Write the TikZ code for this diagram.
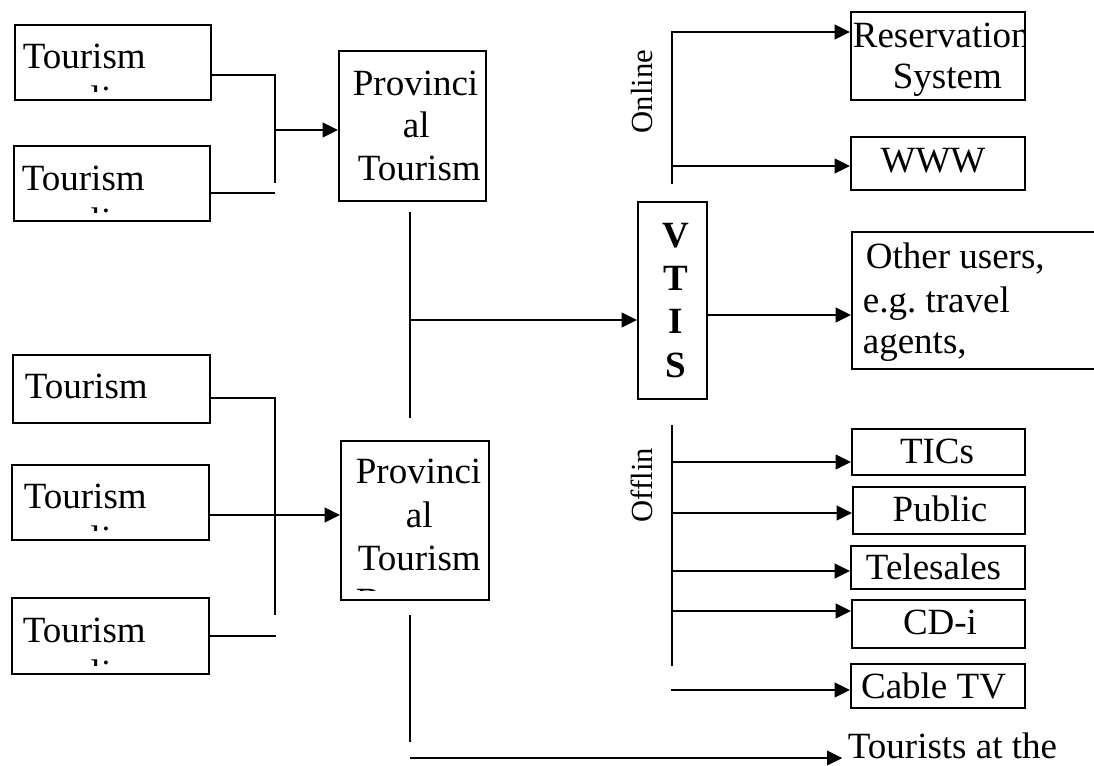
\documentclass[tikz,border=0pt]{standalone}
\usepackage{fontspec}
\setmainfont{Liberation Serif}
\usetikzlibrary{arrows.meta}
\frenchspacing
\newcommand\bigf{\fontsize{27.75pt}{32.25pt}\selectfont}
\newcommand\midf{\fontsize{23pt}{27pt}\selectfont}
\newcommand\boxnode[5]{\node[box, minimum width={(#4-#2)*0.75pt}, minimum height={(#5-#3)*0.75pt}, anchor=north west] (#1) at (#2,#3) {};}
\begin{document}
\begin{tikzpicture}[x=0.75pt,y=-0.75pt, line width=1.3pt,
  box/.style={draw, rectangle, inner sep=0pt, line width=1.3pt},
  txt/.style={inner sep=0pt, anchor=base west, font=\bigf},
  ctxt/.style={inner sep=0pt, anchor=base, font=\bigf},
  vtxt/.style={inner sep=0pt, anchor=base, rotate=90, font=\midf},
  arr/.style={-{Triangle[length=11.5pt,width=11pt]}}]
\clip (0,0) rectangle (1094,765);
\useasboundingbox (0,0) rectangle (1094,765);

% ---------- upper left group
\boxnode{t1}{14}{24}{210}{99}
\boxnode{t2}{13}{145}{209}{220}
\boxnode{p1}{338}{50}{485}{200}
\node[txt] (t1x) at (22,68) {Tourism};
\node[txt] (t2x) at (21,190) {Tourism};
\begin{scope}
  \clip (14,24) rectangle (210,91);
  \node[ctxt] (t1y) at (101,111) {li};
\end{scope}
\begin{scope}
  \clip (13,145) rectangle (209,212);
  \node[ctxt] (t2y) at (101,233) {li};
\end{scope}
\node[txt] (p1a) at (352,95) {Provinci};
\node[txt] (p1b) at (402,137) {al};
\node[txt] (p1c) at (357,180) {Tourism};
\coordinate (a1) at (275,75);
\coordinate (a2) at (275,183);
\coordinate (a3) at (275,130);
\coordinate (a4) at (275,193);
\draw (t1.east |- a1) -- (a1) -- (a2);
\draw[arr] (a3) -- (p1.west |- a3);
\draw (t2.east |- a4) -- (a4);

% ---------- lower left group
\boxnode{t3}{12}{354}{209}{422}
\boxnode{t4}{11}{464}{208}{539}
\boxnode{t5}{11}{597}{208}{673}
\boxnode{p2}{340}{440}{488}{599}
\node[txt] (t3x) at (24,398) {Tourism};
\node[txt] (t4x) at (23,508) {Tourism};
\node[txt] (t5x) at (22,642) {Tourism};
\begin{scope}
  \clip (11,464) rectangle (208,530);
  \node[ctxt] (t4y) at (101,551) {li};
\end{scope}
\begin{scope}
  \clip (11,597) rectangle (208,665);
  \node[ctxt] (t5y) at (101,685) {li};
\end{scope}
\node[txt] (p2a) at (355,483) {Provinci};
\node[txt] (p2b) at (405,527) {al};
\node[txt] (p2c) at (357,570) {Tourism};
\begin{scope}
  \clip (340,440) rectangle (488,590.5);
  \node[txt] (p2d) at (355,613) {B};
\end{scope}
\coordinate (b1) at (275,398);
\coordinate (b2) at (275,615);
\coordinate (b3) at (275,515);
\coordinate (b4) at (276,636);
\draw (t3.east |- b1) -- (b1) -- (b2);
\draw[arr] (t4.east |- b3) -- (p2.west |- b3);
\draw (t5.east |- b4) -- (b4);

% ---------- middle trunk and VTIS
\boxnode{vtis}{637}{201}{706}{398}
\node[ctxt, font=\bigf\bfseries] (v1) at (675.5,247) {V};
\node[ctxt, font=\bigf\bfseries] (v2) at (675.5,290) {T};
\node[ctxt, font=\bigf\bfseries] (v3) at (675.5,333) {I};
\node[ctxt, font=\bigf\bfseries] (v4) at (675.5,377) {S};
\coordinate (m1) at (410,212);
\coordinate (m2) at (410,418);
\coordinate (m3) at (410,320);
\coordinate (m4) at (706,315);
\draw (m1) -- (m2);
\draw[arr] (m3) -- (vtis.west |- m3);

\boxnode{other}{851}{231}{1110}{368}
\node[txt] (o1x) at (865,268) {Other users,};
\node[txt] (o2x) at (862,312) {e.g. travel};
\node[txt] (o3x) at (862,353) {agents,};
\draw[arr] (vtis.east |- m4) -- (other.west |- m4);

% ---------- tourists
\coordinate (c1) at (410,615);
\coordinate (c2) at (410,742);
\coordinate (c3) at (410,758);
\node[txt] (tour) at (847,758) {Tourists at the};
\draw (c1) -- (c2);
\draw[arr] (c3) -- ([xshift=-3.5pt]tour.base west);

% ---------- online
\boxnode{res}{850}{11}{1024}{99}
\boxnode{www}{850}{136}{1024}{189}
\begin{scope}
  \clip (850,11) rectangle (1023,99);
  \node[txt] (resx) at (852,47) {Reservation};
\end{scope}
\node[txt] (resy) at (892,88) {System};
\node[ctxt] (wwwx) at (933,172) {WWW};
\node[vtxt] (online) at (652,91.5) {Online};
\coordinate (n1) at (672,32);
\coordinate (n2) at (672,184);
\coordinate (n3) at (672,166);
\draw[arr] (n2) -- (n1) -- (res.west |- n1);
\draw[arr] (n3) -- (www.west |- n3);

% ---------- offline
\boxnode{tics}{851}{428}{1024}{474}
\boxnode{pub}{852}{486}{1024}{533}
\boxnode{tel}{850}{545}{1024}{588}
\boxnode{cdi}{851}{599}{1024}{647}
\boxnode{cab}{850}{663}{1024}{707}
\node[ctxt] (ticsx) at (937,463) {TICs};
\node[ctxt] (pubx) at (940,521) {Public};
\node[ctxt] (telx) at (933.5,579) {Telesales};
\node[ctxt] (cdix) at (940,634) {CD-i};
\node[ctxt] (cabx) at (933.5,698) {Cable TV};
\node[vtxt] (offline) at (652,485) {Offlin};
\coordinate (f1) at (672,425);
\coordinate (f2) at (672,666);
\coordinate (g1) at (672,462);
\coordinate (g2) at (672,513);
\coordinate (g3) at (672,571);
\coordinate (g4) at (672,611);
\coordinate (g5) at (671,690);
\draw (f1) -- (f2);
\draw[arr] (g1) -- (tics.west |- g1);
\draw[arr] (g2) -- (pub.west |- g2);
\draw[arr] (g3) -- (tel.west |- g3);
\draw[arr] (g4) -- (cdi.west |- g4);
\draw[arr] (g5) -- (cab.west |- g5);
\end{tikzpicture}
\end{document}
